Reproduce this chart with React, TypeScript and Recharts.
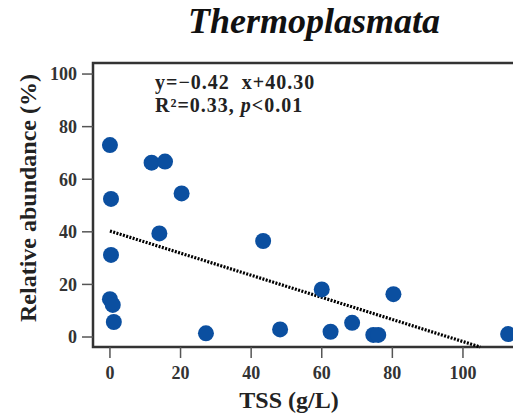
import React from 'react';
import { ScatterChart, Scatter, XAxis, YAxis, ReferenceArea, ReferenceLine } from 'recharts';

// values
const tssValues = [0, 0.3, 0.3, 0, 0.8, 1.1, 11.8, 15.6, 20.3, 14.0, 27.2, 43.4, 60.0, 48.2, 62.5, 68.6, 74.6, 76.0, 80.3, 112.8];
const abundanceValues = [73.0, 52.5, 31.2, 14.4, 12.2, 5.7, 66.3, 66.7, 54.6, 39.4, 1.4, 36.5, 18.1, 2.9, 2.0, 5.4, 0.8, 0.8, 16.3, 1.1];
const xTicks = [0, 20, 40, 60, 80, 100];
const yTicks = [0, 20, 40, 60, 80, 100];
// fitted line y = -0.42x + 40.30, end points as drawn
const trendStart = { x: 0, y: 40.3 };
const trendEnd = { x: 104.9, y: -3.8 };

const xDomain: [number, number] = [-4.8, 118];
const yDomain: [number, number] = [-3.8, 104.2];

const points = tssValues.map((x, i) => ({ x, y: abundanceValues[i] }));

const serif = "'Liberation Serif', 'Times New Roman', serif";
const tickStyle = { fontFamily: serif, fontWeight: 700, fontSize: 18, fill: '#333' };

const Dot = (props: any) => <circle cx={props.cx} cy={props.cy} r={8} fill="#0b4fa0" />;

export default function App() {
  return (
    <div style={{ position: 'fixed', left: 0, top: 0, width: 513, height: 415, overflow: 'hidden', background: '#fff' }}>
      <ScatterChart width={540} height={415} margin={{ top: 63, right: 13.5, bottom: 0, left: 0 }}>
        <XAxis
          type="number"
          dataKey="x"
          domain={xDomain}
          ticks={xTicks}
          allowDataOverflow
          axisLine={false}
          tickSize={11}
          tickMargin={8}
          tickLine={{ stroke: '#555', strokeWidth: 1.5 }}
          tick={tickStyle}
          height={68}
        />
        <YAxis
          type="number"
          dataKey="y"
          domain={yDomain}
          ticks={yTicks}
          allowDataOverflow
          axisLine={false}
          tickSize={11}
          tickMargin={5}
          tickLine={{ stroke: '#555', strokeWidth: 1.5 }}
          tick={tickStyle}
          width={93}
        />
        <ReferenceArea
          x1={xDomain[0]}
          x2={xDomain[1]}
          y1={yDomain[0]}
          y2={yDomain[1]}
          fill="none"
          stroke="#333"
          strokeWidth={2.5}
          ifOverflow="visible"
        />
        <Scatter data={points} shape={Dot} isAnimationActive={false} />
        <ReferenceLine
          segment={[trendStart, trendEnd]}
          stroke="#000"
          strokeWidth={3.2}
          strokeDasharray="2 1.4"
          ifOverflow="visible"
        />
      </ScatterChart>
      <svg width={513} height={415} style={{ position: 'absolute', left: 0, top: 0, pointerEvents: 'none' }}>
        <text x={188} y={33} fontFamily={serif} fontWeight={700} fontStyle="italic" fontSize={36} fill="#111">
          Thermoplasmata
        </text>
        <text x={155} y={89} fontFamily={serif} fontWeight={700} fontSize={20} letterSpacing={1} fill="#222">
          {'y=−0.42\u00a0\u00a0x+40.30'}
        </text>
        <text x={155} y={112} fontFamily={serif} fontWeight={700} fontSize={20} letterSpacing={1} fill="#222">
          {'R²=0.33, '}<tspan fontStyle="italic">p</tspan>{'<0.01'}
        </text>
        <text x={289} y={408} textAnchor="middle" fontFamily={serif} fontWeight={700} fontSize={24} fill="#222">
          TSS (g/L)
        </text>
        <text x={36} y={198} textAnchor="middle" transform="rotate(-90, 36, 198)" fontFamily={serif} fontWeight={700} fontSize={24} fill="#222">
          Relative abundance (%)
        </text>
      </svg>
    </div>
  );
}
